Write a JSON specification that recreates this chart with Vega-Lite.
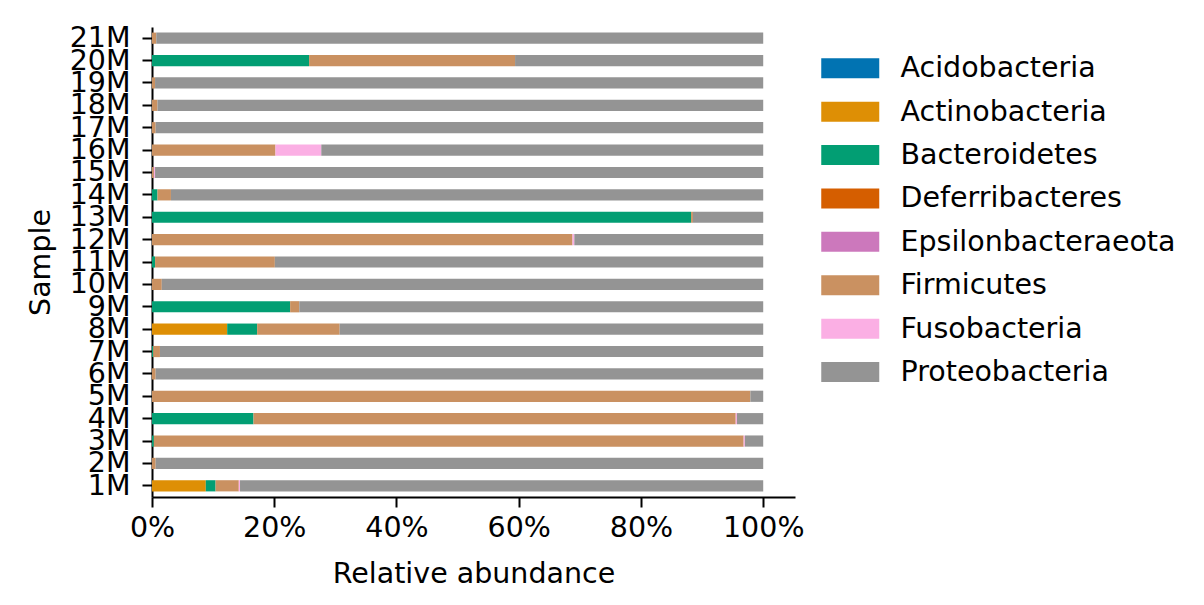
{
  "$schema": "https://vega.github.io/schema/vega-lite/v6.json",
  "autosize": "none",
  "width": 643,
  "height": 470,
  "padding": {"left": 152, "top": 27, "right": 409, "bottom": 108},
  "background": "white",
  "config": {
    "font": "DejaVu Sans",
    "view": {"stroke": null},
    "axis": {
      "labelFont": "DejaVu Sans",
      "titleFont": "DejaVu Sans",
      "labelColor": "black",
      "titleColor": "black",
      "domainColor": "black",
      "tickColor": "black",
      "domainWidth": 2,
      "tickWidth": 2,
      "tickSize": 10,
      "labelFontSize": 28.5,
      "titleFontSize": 28.5,
      "titleFontWeight": "normal",
      "grid": false
    },
    "legend": {
      "labelFont": "DejaVu Sans",
      "labelFontSize": 28.5,
      "labelColor": "black"
    }
  },
  "data": {
    "values": [
      {"sample": "21M", "phylum": "Firmicutes", "value": 0.007},
      {"sample": "21M", "phylum": "Proteobacteria", "value": 0.993},
      {"sample": "20M", "phylum": "Bacteroidetes", "value": 0.257},
      {"sample": "20M", "phylum": "Firmicutes", "value": 0.337},
      {"sample": "20M", "phylum": "Proteobacteria", "value": 0.406},
      {"sample": "19M", "phylum": "Firmicutes", "value": 0.005},
      {"sample": "19M", "phylum": "Proteobacteria", "value": 0.995},
      {"sample": "18M", "phylum": "Firmicutes", "value": 0.009},
      {"sample": "18M", "phylum": "Proteobacteria", "value": 0.991},
      {"sample": "17M", "phylum": "Firmicutes", "value": 0.006},
      {"sample": "17M", "phylum": "Proteobacteria", "value": 0.994},
      {"sample": "16M", "phylum": "Firmicutes", "value": 0.202},
      {"sample": "16M", "phylum": "Fusobacteria", "value": 0.075},
      {"sample": "16M", "phylum": "Proteobacteria", "value": 0.723},
      {"sample": "15M", "phylum": "Firmicutes", "value": 0.003},
      {"sample": "15M", "phylum": "Fusobacteria", "value": 0.002},
      {"sample": "15M", "phylum": "Proteobacteria", "value": 0.995},
      {"sample": "14M", "phylum": "Bacteroidetes", "value": 0.009},
      {"sample": "14M", "phylum": "Firmicutes", "value": 0.022},
      {"sample": "14M", "phylum": "Proteobacteria", "value": 0.969},
      {"sample": "13M", "phylum": "Bacteroidetes", "value": 0.882},
      {"sample": "13M", "phylum": "Firmicutes", "value": 0.003},
      {"sample": "13M", "phylum": "Proteobacteria", "value": 0.115},
      {"sample": "12M", "phylum": "Firmicutes", "value": 0.688},
      {"sample": "12M", "phylum": "Fusobacteria", "value": 0.003},
      {"sample": "12M", "phylum": "Proteobacteria", "value": 0.309},
      {"sample": "11M", "phylum": "Bacteroidetes", "value": 0.005},
      {"sample": "11M", "phylum": "Firmicutes", "value": 0.196},
      {"sample": "11M", "phylum": "Proteobacteria", "value": 0.799},
      {"sample": "10M", "phylum": "Firmicutes", "value": 0.016},
      {"sample": "10M", "phylum": "Proteobacteria", "value": 0.984},
      {"sample": "9M", "phylum": "Bacteroidetes", "value": 0.226},
      {"sample": "9M", "phylum": "Firmicutes", "value": 0.015},
      {"sample": "9M", "phylum": "Proteobacteria", "value": 0.759},
      {"sample": "8M", "phylum": "Actinobacteria", "value": 0.123},
      {"sample": "8M", "phylum": "Bacteroidetes", "value": 0.049},
      {"sample": "8M", "phylum": "Firmicutes", "value": 0.135},
      {"sample": "8M", "phylum": "Proteobacteria", "value": 0.693},
      {"sample": "7M", "phylum": "Bacteroidetes", "value": 0.002},
      {"sample": "7M", "phylum": "Firmicutes", "value": 0.011},
      {"sample": "7M", "phylum": "Proteobacteria", "value": 0.987},
      {"sample": "6M", "phylum": "Firmicutes", "value": 0.006},
      {"sample": "6M", "phylum": "Proteobacteria", "value": 0.994},
      {"sample": "5M", "phylum": "Firmicutes", "value": 0.979},
      {"sample": "5M", "phylum": "Proteobacteria", "value": 0.021},
      {"sample": "4M", "phylum": "Bacteroidetes", "value": 0.166},
      {"sample": "4M", "phylum": "Firmicutes", "value": 0.789},
      {"sample": "4M", "phylum": "Fusobacteria", "value": 0.002},
      {"sample": "4M", "phylum": "Proteobacteria", "value": 0.043},
      {"sample": "3M", "phylum": "Bacteroidetes", "value": 0.003},
      {"sample": "3M", "phylum": "Firmicutes", "value": 0.965},
      {"sample": "3M", "phylum": "Fusobacteria", "value": 0.002},
      {"sample": "3M", "phylum": "Proteobacteria", "value": 0.030},
      {"sample": "2M", "phylum": "Firmicutes", "value": 0.006},
      {"sample": "2M", "phylum": "Proteobacteria", "value": 0.994},
      {"sample": "1M", "phylum": "Actinobacteria", "value": 0.088},
      {"sample": "1M", "phylum": "Bacteroidetes", "value": 0.016},
      {"sample": "1M", "phylum": "Firmicutes", "value": 0.038},
      {"sample": "1M", "phylum": "Fusobacteria", "value": 0.002},
      {"sample": "1M", "phylum": "Proteobacteria", "value": 0.856}
    ]
  },
  "mark": {"type": "bar"},
  "encoding": {
    "y": {
      "field": "sample",
      "type": "nominal",
      "sort": ["21M","20M","19M","18M","17M","16M","15M","14M","13M","12M","11M","10M","9M","8M","7M","6M","5M","4M","3M","2M","1M"],
      "scale": {"paddingInner": 0.5, "paddingOuter": 0.25},
      "axis": {"title": "Sample", "labelPadding": 12, "titlePadding": 14, "labelAngle": 0}
    },
    "x": {
      "field": "value",
      "type": "quantitative",
      "stack": "zero",
      "scale": {"domain": [0, 1.052], "nice": false, "zero": true},
      "axis": {"title": "Relative abundance", "values": [0, 0.2, 0.4, 0.6, 0.8, 1.0], "format": ".0%", "labelPadding": 6, "titlePadding": 18, "labelFlush": false}
    },
    "color": {
      "field": "phylum",
      "type": "nominal",
      "scale": {
        "domain": ["Acidobacteria","Actinobacteria","Bacteroidetes","Deferribacteres","Epsilonbacteraeota","Firmicutes","Fusobacteria","Proteobacteria"],
        "range": ["#0173b2","#de8f05","#029e73","#d55e00","#cc78bc","#ca9161","#fbafe4","#949494"]
      },
      "legend": {
        "title": null,
        "orient": "none",
        "legendX": 684,
        "legendY": 27,
        "symbolType": "M-2.9,-1H2.9V1H-2.9Z",
        "symbolSize": 400,
        "symbolStrokeWidth": 0,
        "symbolOpacity": 1,
        "labelOffset": 36,
        "rowPadding": 14.4,
        "labelLimit": 400,
        "padding": 0
      }
    },
    "order": {"field": "phylum", "sort": "ascending"}
  }
}
